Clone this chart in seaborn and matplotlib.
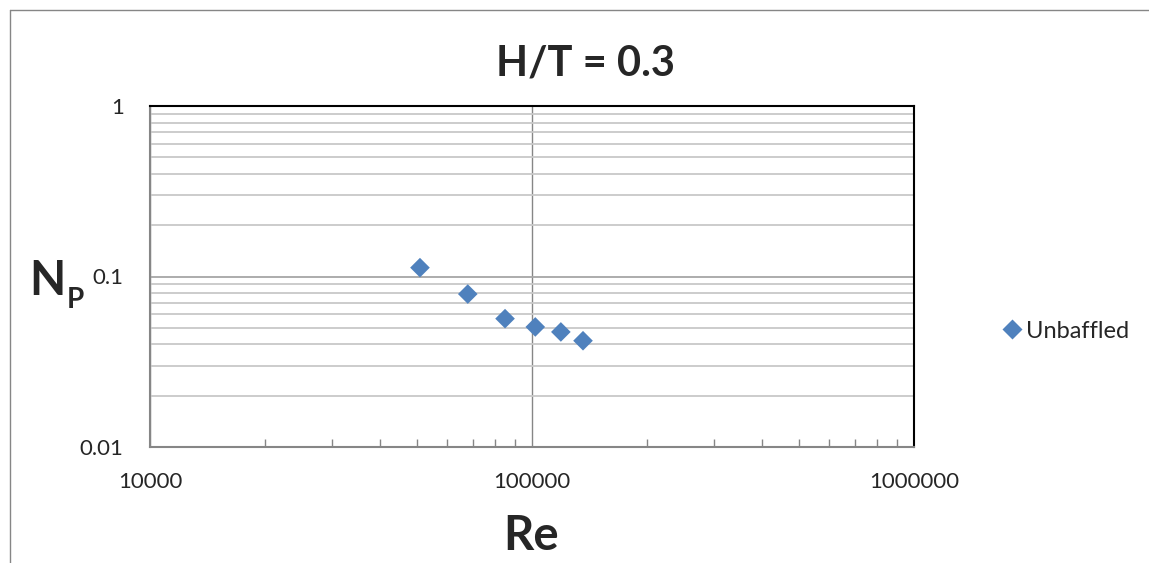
import matplotlib
matplotlib.use("Agg")
import matplotlib.pyplot as plt
import seaborn as sns
import pandas as pd
import numpy as np
from matplotlib.lines import Line2D
from matplotlib.ticker import LogLocator, NullFormatter, FixedLocator, FixedFormatter

# Data
re_values = [50900, 67900, 85000, 102000, 119000, 136000]
np_values = [0.1127, 0.0789, 0.0566, 0.0506, 0.0473, 0.0420]
series_name = "Unbaffled"
x_ticks = [1e4, 1e5, 1e6]
x_tick_labels = ["10000", "100000", "1000000"]
y_ticks = [0.01, 0.1, 1]
y_tick_labels = ["0.01", "0.1", "1"]
title = "H/T = 0.3"

df = pd.DataFrame({"Re": re_values, "Np": np_values, "series": series_name})

sns.set_style("white")
plt.rcParams['font.family'] = ['Lato', 'DejaVu Sans']

W, H = 1149, 563
fig = plt.figure(figsize=(W / 100, H / 100), dpi=100)
ax = fig.add_axes([150 / W, 1 - 447 / H, (914 - 150) / W, (447 - 106) / H])

sns.scatterplot(data=df, x="Re", y="Np", hue="series", palette=["#4F81BD"],
                marker="D", s=100, edgecolor="none", ax=ax, zorder=5)

ax.set_xscale("log")
ax.set_yscale("log")
ax.set_xlim(1e4, 1e6)
ax.set_ylim(0.01, 1)

ax.yaxis.set_major_locator(FixedLocator(y_ticks))
ax.yaxis.set_major_formatter(FixedFormatter(y_tick_labels))
ax.yaxis.set_minor_locator(LogLocator(base=10, subs=np.arange(2, 10)))
ax.yaxis.set_minor_formatter(NullFormatter())
ax.xaxis.set_major_locator(FixedLocator(x_ticks))
ax.xaxis.set_major_formatter(FixedFormatter(x_tick_labels))
ax.xaxis.set_minor_locator(LogLocator(base=10, subs=np.arange(2, 10)))
ax.xaxis.set_minor_formatter(NullFormatter())

ax.grid(True, which="major", axis="y", color="#A6A6A6", linewidth=1.3)
ax.grid(True, which="minor", axis="y", color="#C8C8C8", linewidth=1.3)
ax.grid(True, which="major", axis="x", color="#868686", linewidth=1.0)
ax.set_axisbelow(True)

ax.tick_params(axis="x", which="major", bottom=True, length=0, pad=18, labelsize=16)
ax.tick_params(axis="x", which="minor", bottom=True, direction="in", length=6,
               width=1, color="#868686")
ax.tick_params(axis="y", which="both", left=True, length=0, pad=19, labelsize=16)

for side in ["left", "bottom"]:
    ax.spines[side].set_color("#868686")
    ax.spines[side].set_linewidth(1.5)
for side in ["top", "right"]:
    ax.spines[side].set_color("black")
    ax.spines[side].set_linewidth(1.5)
    ax.spines[side].set_visible(True)

ax.set_xlabel("")
ax.set_ylabel("")

# legend
handles = [Line2D([0], [0], marker="D", color="none", markerfacecolor="#4F81BD",
                  markeredgecolor="none", markersize=10)]
fig.legend(handles, [series_name], loc="center left",
           bbox_to_anchor=(993 / W, 1 - 331 / H), frameon=False,
           fontsize=17, handlelength=0.6, handletextpad=0.3, borderpad=0)
if ax.get_legend() is not None:
    ax.get_legend().remove()

# titles / labels
fig.text(585 / W, 1 - 64 / H, title, ha="center", va="center",
         fontsize=30, fontweight="bold")
fig.text(531 / W, 1 - 536 / H, "Re", ha="center", va="center",
         fontsize=34, fontweight="bold")
fig.text(47 / W, 1 - 281 / H, "N", ha="center", va="center",
         fontsize=34, fontweight="bold")
fig.text(75 / W, 1 - 300 / H, "P", ha="center", va="center",
         fontsize=20, fontweight="bold")

# outer chart border (partially visible)
fig.add_artist(Line2D([10 / W, 1.0], [1 - 10 / H, 1 - 10 / H], transform=fig.transFigure,
                      color="#868686", linewidth=1))
fig.add_artist(Line2D([10 / W, 10 / W], [1 - 10 / H, 0.0], transform=fig.transFigure,
                      color="#868686", linewidth=1))

fig.savefig("out.png", dpi=100, facecolor="white")
